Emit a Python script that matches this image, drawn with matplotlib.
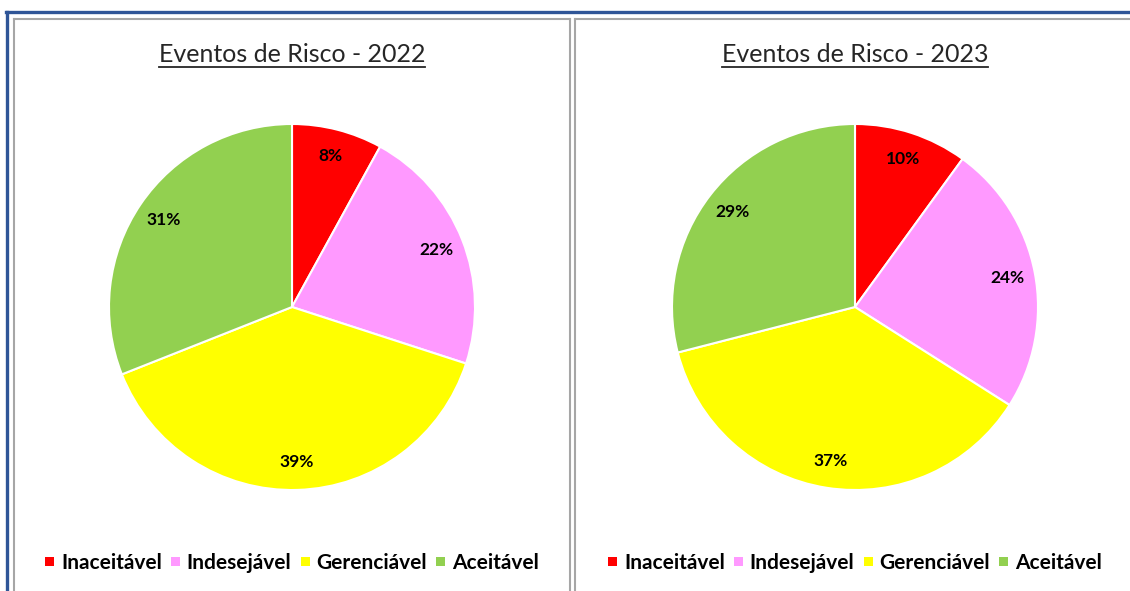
import matplotlib.pyplot as plt
from matplotlib.patches import Rectangle
from matplotlib.lines import Line2D

categorias = ['Inaceitável', 'Indesejável', 'Gerenciável', 'Aceitável']
cores = ['#FF0000', '#FF99FF', '#FFFF00', '#92D050']
anos = ['2022', '2023']
valores_2022 = [8, 22, 39, 31]
valores_2023 = [10, 24, 37, 29]

W, H = 1130, 591
plt.rcParams['font.family'] = ['Lato', 'DejaVu Sans']
fig = plt.figure(figsize=(W / 100, H / 100), dpi=100)
fig.patch.set_facecolor('white')

# molduras
fig.add_artist(Line2D([6 / W, 1], [1 - 11.5 / H] * 2, color='#2F5597', lw=2.4))
fig.add_artist(Line2D([6.5 / W] * 2, [0, 1 - 11.5 / H], color='#2F5597', lw=2.4))
for x0, x1 in [(14, 570), (575, 1135)]:
    fig.add_artist(Line2D([x0 / W, x1 / W], [1 - 19 / H] * 2, color='#A6A6A6', lw=1.5))
    fig.add_artist(Line2D([x0 / W] * 2, [0, 1 - 19 / H], color='#A6A6A6', lw=1.5))
    if x1 < W:
        fig.add_artist(Line2D([x1 / W] * 2, [0, 1 - 19 / H], color='#A6A6A6', lw=1.5))

centros = [292, 855]
R = 183
titulos = []
for cx, ano, vals in zip(centros, anos, [valores_2022, valores_2023]):
    ax = fig.add_axes([(cx - R) / W, (H - 307 - R) / H, 2 * R / W, 2 * R / H])
    ax.pie(vals, colors=cores, startangle=90, counterclock=False,
           autopct='%1.0f%%', pctdistance=0.85,
           wedgeprops=dict(edgecolor='white', linewidth=1.5),
           textprops=dict(fontsize=12.5, fontweight='bold', color='black'))
    ax.set_xlim(-1, 1)
    ax.set_ylim(-1, 1)
    ax.set_aspect('equal')
    t = fig.text(cx / W, 1 - 54 / H, 'Eventos de Risco - ' + ano, ha='center', va='center',
                 fontsize=18, color='#262626')
    titulos.append(t)

fig.canvas.draw()
r = fig.canvas.get_renderer()
for t in titulos:
    bb = t.get_window_extent(r)
    y = bb.y0 - 1
    fig.add_artist(Line2D([bb.x0 / W, bb.x1 / W], [y / H, y / H], color='#262626', lw=1.3))

# legendas
sq, gap1, gap2 = 9, 7, 9
base = H - 569
for cx in centros:
    textos = [fig.text(0, base / H, c, fontsize=15, fontweight='bold', va='baseline')
              for c in categorias]
    fig.canvas.draw()
    larguras = [tt.get_window_extent(r).width for tt in textos]
    total = sum(larguras) + len(textos) * (sq + gap1) + (len(textos) - 1) * gap2
    x = cx - total / 2
    for tt, w, c in zip(textos, larguras, cores):
        fig.add_artist(Rectangle((x / W, (H - 566) / H), sq / W, sq / H, facecolor=c,
                                 edgecolor='none', transform=fig.transFigure))
        x += sq + gap1
        tt.set_x(x / W)
        x += w + gap2

fig.savefig('out.png', dpi=100)
